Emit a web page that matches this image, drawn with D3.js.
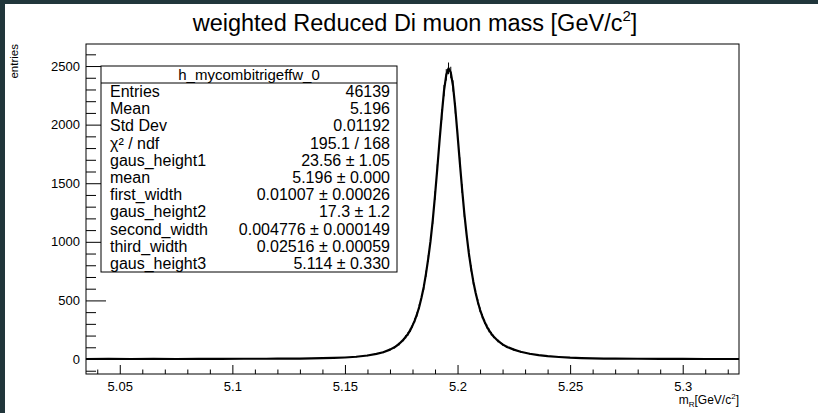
<!DOCTYPE html>
<html>
<head>
<meta charset="utf-8">
<script src="https://cdn.jsdelivr.net/npm/d3@7"></script>
<style>
  html, body { margin: 0; padding: 0; background: #ffffff; }
  svg text { font-family: 'Liberation Sans', Arial, Helvetica, sans-serif; fill: #000; }
</style>
</head>
<body>
<svg id="chart" width="818" height="413"></svg>
<script>
// bin centres (GeV/c^2) and weighted entries
const masses = [5.035, 5.045, 5.055, 5.065, 5.075, 5.085, 5.095, 5.105, 5.115, 5.12, 5.125, 5.13, 5.135, 5.14, 5.145, 5.15, 5.155, 5.16, 5.164, 5.167,
  5.17, 5.172, 5.174, 5.176, 5.177, 5.178, 5.179, 5.18, 5.181, 5.182, 5.183, 5.184, 5.185, 5.186, 5.187, 5.188, 5.189, 5.19, 5.191, 5.192,
  5.193, 5.194, 5.195, 5.196, 5.197, 5.198, 5.199, 5.2, 5.201, 5.202, 5.203, 5.204, 5.205, 5.206, 5.207, 5.208, 5.209, 5.21, 5.211, 5.212,
  5.213, 5.214, 5.215, 5.216, 5.218, 5.22, 5.222, 5.225, 5.228, 5.232, 5.236, 5.24, 5.245, 5.25, 5.255, 5.26, 5.265, 5.27, 5.28, 5.29,
  5.3, 5.31, 5.325];
const entries = [0, 1, 0, 1, 0, 1, 1, 2, 2, 3, 3, 4, 5, 7, 9, 13, 19, 30, 44, 58,
  80, 100, 128, 165, 190, 214, 246, 285, 330, 382, 446, 525, 615, 728, 858, 1005, 1185, 1395, 1622, 1860,
  2085, 2290, 2425, 2480, 2445, 2330, 2140, 1915, 1680, 1455, 1245, 1065, 905, 775, 662, 568, 488, 420, 365, 318,
  278, 244, 216, 192, 154, 125, 103, 80, 62, 45, 33, 24, 17, 11, 8, 6, 4, 3, 2, 1,
  1, 0, 0];
const errors = [1, 1, 1, 1, 1, 1, 1, 2, 2, 2, 2, 2, 3, 3, 3, 4, 5, 6, 7, 8,
  9, 10, 11, 13, 14, 15, 16, 17, 18, 20, 21, 23, 25, 27, 29, 32, 34, 37, 40, 43,
  46, 48, 49, 50, 49, 48, 46, 44, 41, 38, 35, 33, 30, 28, 26, 24, 22, 20, 19, 18,
  17, 16, 15, 14, 12, 11, 10, 9, 8, 7, 6, 5, 4, 3, 3, 2, 2, 2, 1, 1,
  1, 1, 1];

const yMajor = [0, 500, 1000, 1500, 2000, 2500];
const yMinor = [-100, 100, 200, 300, 400, 600, 700, 800, 900, 1100, 1200, 1300, 1400, 1600, 1700, 1800, 1900, 2100, 2200, 2300, 2400, 2600];
const xMajor = [5.05, 5.1, 5.15, 5.2, 5.25, 5.3];
const xMinor = [5.04, 5.06, 5.07, 5.08, 5.09, 5.11, 5.12, 5.13, 5.14, 5.16, 5.17, 5.18, 5.19, 5.21, 5.22, 5.23, 5.24, 5.26, 5.27, 5.28, 5.29, 5.31, 5.32];

const statsName = "h_mycombitrigeffw_0";
const statLabels = ["Entries", "Mean", "Std Dev", "\u03C7\u00B2 / ndf", "gaus_height1", "mean", "first_width", "gaus_height2", "second_width", "third_width", "gaus_height3"];
const statValues = ["46139", "5.196", "0.01192", "195.1 / 168", "23.56 \u00B1 1.05", "5.196 \u00B1 0.000", "0.01007 \u00B1 0.00026", "17.3 \u00B1 1.2", "0.004776 \u00B1 0.000149", "0.02516 \u00B1 0.00059", "5.114 \u00B1 0.330"];

const svg = d3.select("#chart");
const frame = { left: 86, right: 739, top: 44, bottom: 374 };

// dark page edge (top and left)
svg.append("rect").attr("x", 0).attr("y", 0).attr("width", 818).attr("height", 4).attr("fill", "#21363b");
svg.append("rect").attr("x", 0).attr("y", 0).attr("width", 5).attr("height", 413).attr("fill", "#21363b");

const x = d3.scaleLinear().domain([5.035, 5.325]).range([frame.left, frame.right]);
const y = d3.scaleLinear().domain([-128, 2688]).range([frame.bottom, frame.top]);

// title
const title = svg.append("text").attr("x", 415).attr("y", 31).attr("text-anchor", "middle").attr("font-size", 23.5);
title.append("tspan").text("weighted Reduced Di muon mass [GeV/c");
title.append("tspan").attr("font-size", 15).attr("dy", -10).text("2");
title.append("tspan").attr("dy", 10).text("]");

// frame
svg.append("rect")
  .attr("x", frame.left).attr("y", frame.top)
  .attr("width", frame.right - frame.left).attr("height", frame.bottom - frame.top)
  .attr("fill", "none").attr("stroke", "#000").attr("stroke-width", 1);

// y axis
svg.append("g").attr("transform", "translate(" + frame.left + ",0)")
  .call(d3.axisLeft(y).tickValues(yMajor).tickSizeInner(-20).tickSizeOuter(0).tickPadding(6).tickFormat(d3.format("d")));
svg.append("g").attr("transform", "translate(" + frame.left + ",0)")
  .call(d3.axisLeft(y).tickValues(yMinor).tickSizeInner(-10).tickSizeOuter(0).tickFormat(""));

// x axis
svg.append("g").attr("transform", "translate(0," + frame.bottom + ")")
  .call(d3.axisBottom(x).tickValues(xMajor).tickSizeInner(-9).tickSizeOuter(0).tickPadding(8).tickFormat(d3.format("")));
svg.append("g").attr("transform", "translate(0," + frame.bottom + ")")
  .call(d3.axisBottom(x).tickValues(xMinor).tickSizeInner(-4.5).tickSizeOuter(0).tickFormat(""));

svg.selectAll(".domain").remove();
svg.selectAll(".tick line").attr("stroke", "#000").attr("stroke-width", 1);
svg.selectAll(".tick text").attr("font-size", 13).attr("font-family", "'Liberation Sans', Arial, sans-serif");

// axis titles
const xt = svg.append("text").attr("x", frame.right).attr("y", 404).attr("text-anchor", "end").attr("font-size", 12);
xt.append("tspan").text("m");
xt.append("tspan").attr("font-size", 8).attr("dy", 3).text("R");
xt.append("tspan").attr("dy", -3).text("[GeV/c");
xt.append("tspan").attr("font-size", 8).attr("dy", -5).text("2");
xt.append("tspan").attr("dy", 5).text("]");

svg.append("text")
  .attr("transform", "translate(18," + frame.top + ") rotate(-90)")
  .attr("text-anchor", "end").attr("font-size", 11.5).text("entries");

// histogram data with error bars
const plot = svg.append("g");
const pts = masses.map((m, i) => ({ m: m, v: entries[i], e: errors[i] }));

plot.selectAll("line.err").data(pts).enter().append("line")
  .attr("class", "err")
  .attr("x1", d => x(d.m)).attr("x2", d => x(d.m))
  .attr("y1", d => y(d.v - d.e)).attr("y2", d => y(d.v + d.e))
  .attr("stroke", "#000").attr("stroke-width", 1);

const line = d3.line().x(d => x(d.m)).y(d => y(d.v));
plot.append("path").datum(pts)
  .attr("d", line)
  .attr("fill", "none").attr("stroke", "#000").attr("stroke-width", 2.2).attr("stroke-linejoin", "round");

// stats box
const box = { x: 101, y: 66, w: 296, h: 206, head: 17 };
const stats = svg.append("g");
stats.append("rect").attr("x", box.x).attr("y", box.y).attr("width", box.w).attr("height", box.h)
  .attr("fill", "#fff").attr("stroke", "#000").attr("stroke-width", 1);
stats.append("line").attr("x1", box.x).attr("x2", box.x + box.w)
  .attr("y1", box.y + box.head).attr("y2", box.y + box.head).attr("stroke", "#000");
stats.append("text").attr("x", box.x + box.w / 2).attr("y", box.y + 13.5).attr("text-anchor", "middle")
  .attr("font-size", 15).text(statsName);

const rowH = (box.h - box.head) / statLabels.length;
statLabels.forEach((lab, i) => {
  const yy = box.y + box.head + rowH * (i + 0.5) + 5.5;
  stats.append("text").attr("x", box.x + 9).attr("y", yy).attr("font-size", 16).text(lab);
  stats.append("text").attr("x", box.x + box.w - 7).attr("y", yy).attr("text-anchor", "end").attr("font-size", 16).text(statValues[i]);
});
</script>
</body>
</html>
